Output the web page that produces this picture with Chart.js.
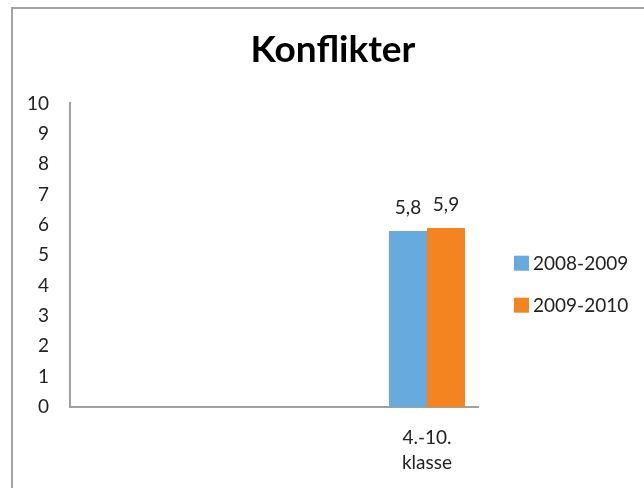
<!DOCTYPE html>
<html>
<head>
<meta charset="utf-8">
<script src="https://cdn.jsdelivr.net/npm/chart.js@4/dist/chart.umd.min.js"></script>
<style>
  html, body { margin: 0; padding: 0; background: #fff; }
  #wrap { position: relative; width: 644px; height: 488px; overflow: hidden; }
  #frame { position: absolute; left: 11px; top: 7px; width: 700px; height: 600px;
           border-left: 2px solid #a3a3a3; border-top: 2px solid #a3a3a3; box-sizing: border-box; }
  canvas { position: absolute; left: 0; top: 0; }
</style>
</head>
<body>
<div id="wrap">
  <div id="frame"></div>
  <canvas id="c" width="644" height="488"></canvas>
</div>
<script>
const categories = ['', '', '', ['4.-10.', 'klasse']];
const seriesNames = ['2008-2009', '2009-2010'];
const values2008 = [null, null, null, 5.8];
const values2009 = [null, null, null, 5.9];
const yTicks = [0, 1, 2, 3, 4, 5, 6, 7, 8, 9, 10];
const colors = ['#67aade', '#f4841f'];

const FONT = 'Lato, "Open Sans", sans-serif';
const TEXT = '#222';

const valueLabels = {
  id: 'valueLabels',
  afterDatasetsDraw(chart) {
    const ctx = chart.ctx;
    ctx.save();
    ctx.font = '19px ' + FONT;
    ctx.fillStyle = TEXT;
    ctx.textAlign = 'center';
    ctx.textBaseline = 'alphabetic';
    chart.data.datasets.forEach((ds, i) => {
      chart.getDatasetMeta(i).data.forEach((el, j) => {
        const v = ds.data[j];
        if (v === null || v === undefined) return;
        ctx.fillText(String(v).replace('.', ','), el.x, el.y - 17);
      });
    });
    ctx.restore();
  }
};

const sideLegend = {
  id: 'sideLegend',
  afterDraw(chart) {
    const ctx = chart.ctx;
    const a = chart.chartArea;
    const mid = (a.top + a.bottom) / 2;
    ctx.save();
    ctx.font = '19px ' + FONT;
    ctx.textAlign = 'left';
    ctx.textBaseline = 'middle';
    chart.data.datasets.forEach((ds, i) => {
      const cy = mid + 8 + i * 42;
      const bx = a.right + 36;
      ctx.fillStyle = ds.backgroundColor;
      ctx.fillRect(bx, cy - 7.5, 15, 15);
      ctx.fillStyle = TEXT;
      ctx.fillText(ds.label, bx + 19, cy + 1);
    });
    ctx.restore();
  }
};

new Chart(document.getElementById('c'), {
  type: 'bar',
  data: {
    labels: categories,
    datasets: [
      { label: seriesNames[0], data: values2008, backgroundColor: colors[0] },
      { label: seriesNames[1], data: values2009, backgroundColor: colors[1] }
    ]
  },
  options: {
    responsive: false,
    animation: false,
    devicePixelRatio: 1,
    layout: { padding: { left: 22, right: 0, top: 0, bottom: 0 } },
    datasets: { bar: { categoryPercentage: 0.745, barPercentage: 1.0 } },
    plugins: {
      legend: { display: false },
      tooltip: { enabled: false },
      title: {
        display: true,
        text: 'Konflikter',
        color: '#000',
        font: { family: FONT, size: 37, weight: 'bold' },
        padding: { top: 28, bottom: 31 }
      }
    },
    scales: {
      x: {
        grid: { display: false, drawTicks: false },
        border: { display: true, color: '#a0a0a0', width: 2 },
        ticks: { color: TEXT, font: { family: FONT, size: 19, lineHeight: 1.32 }, padding: 18, maxRotation: 0, autoSkip: false },
        afterFit(s) { s.height = 81; }
      },
      y: {
        min: 0,
        max: 10,
        grid: { display: false, drawTicks: false },
        border: { display: true, color: '#a0a0a0', width: 2 },
        afterBuildTicks(s) { s.ticks = yTicks.map(v => ({ value: v })); },
        ticks: { color: TEXT, font: { family: FONT, size: 19 }, padding: 21 },
        afterFit(s) { s.width = 48; }
      },
      legendSpace: {
        position: 'right',
        display: true,
        grid: { display: false, drawTicks: false },
        border: { display: false },
        ticks: { display: false },
        afterFit(s) { s.width = 166; }
      }
    }
  },
  plugins: [valueLabels, sideLegend]
});
</script>
</body>
</html>
